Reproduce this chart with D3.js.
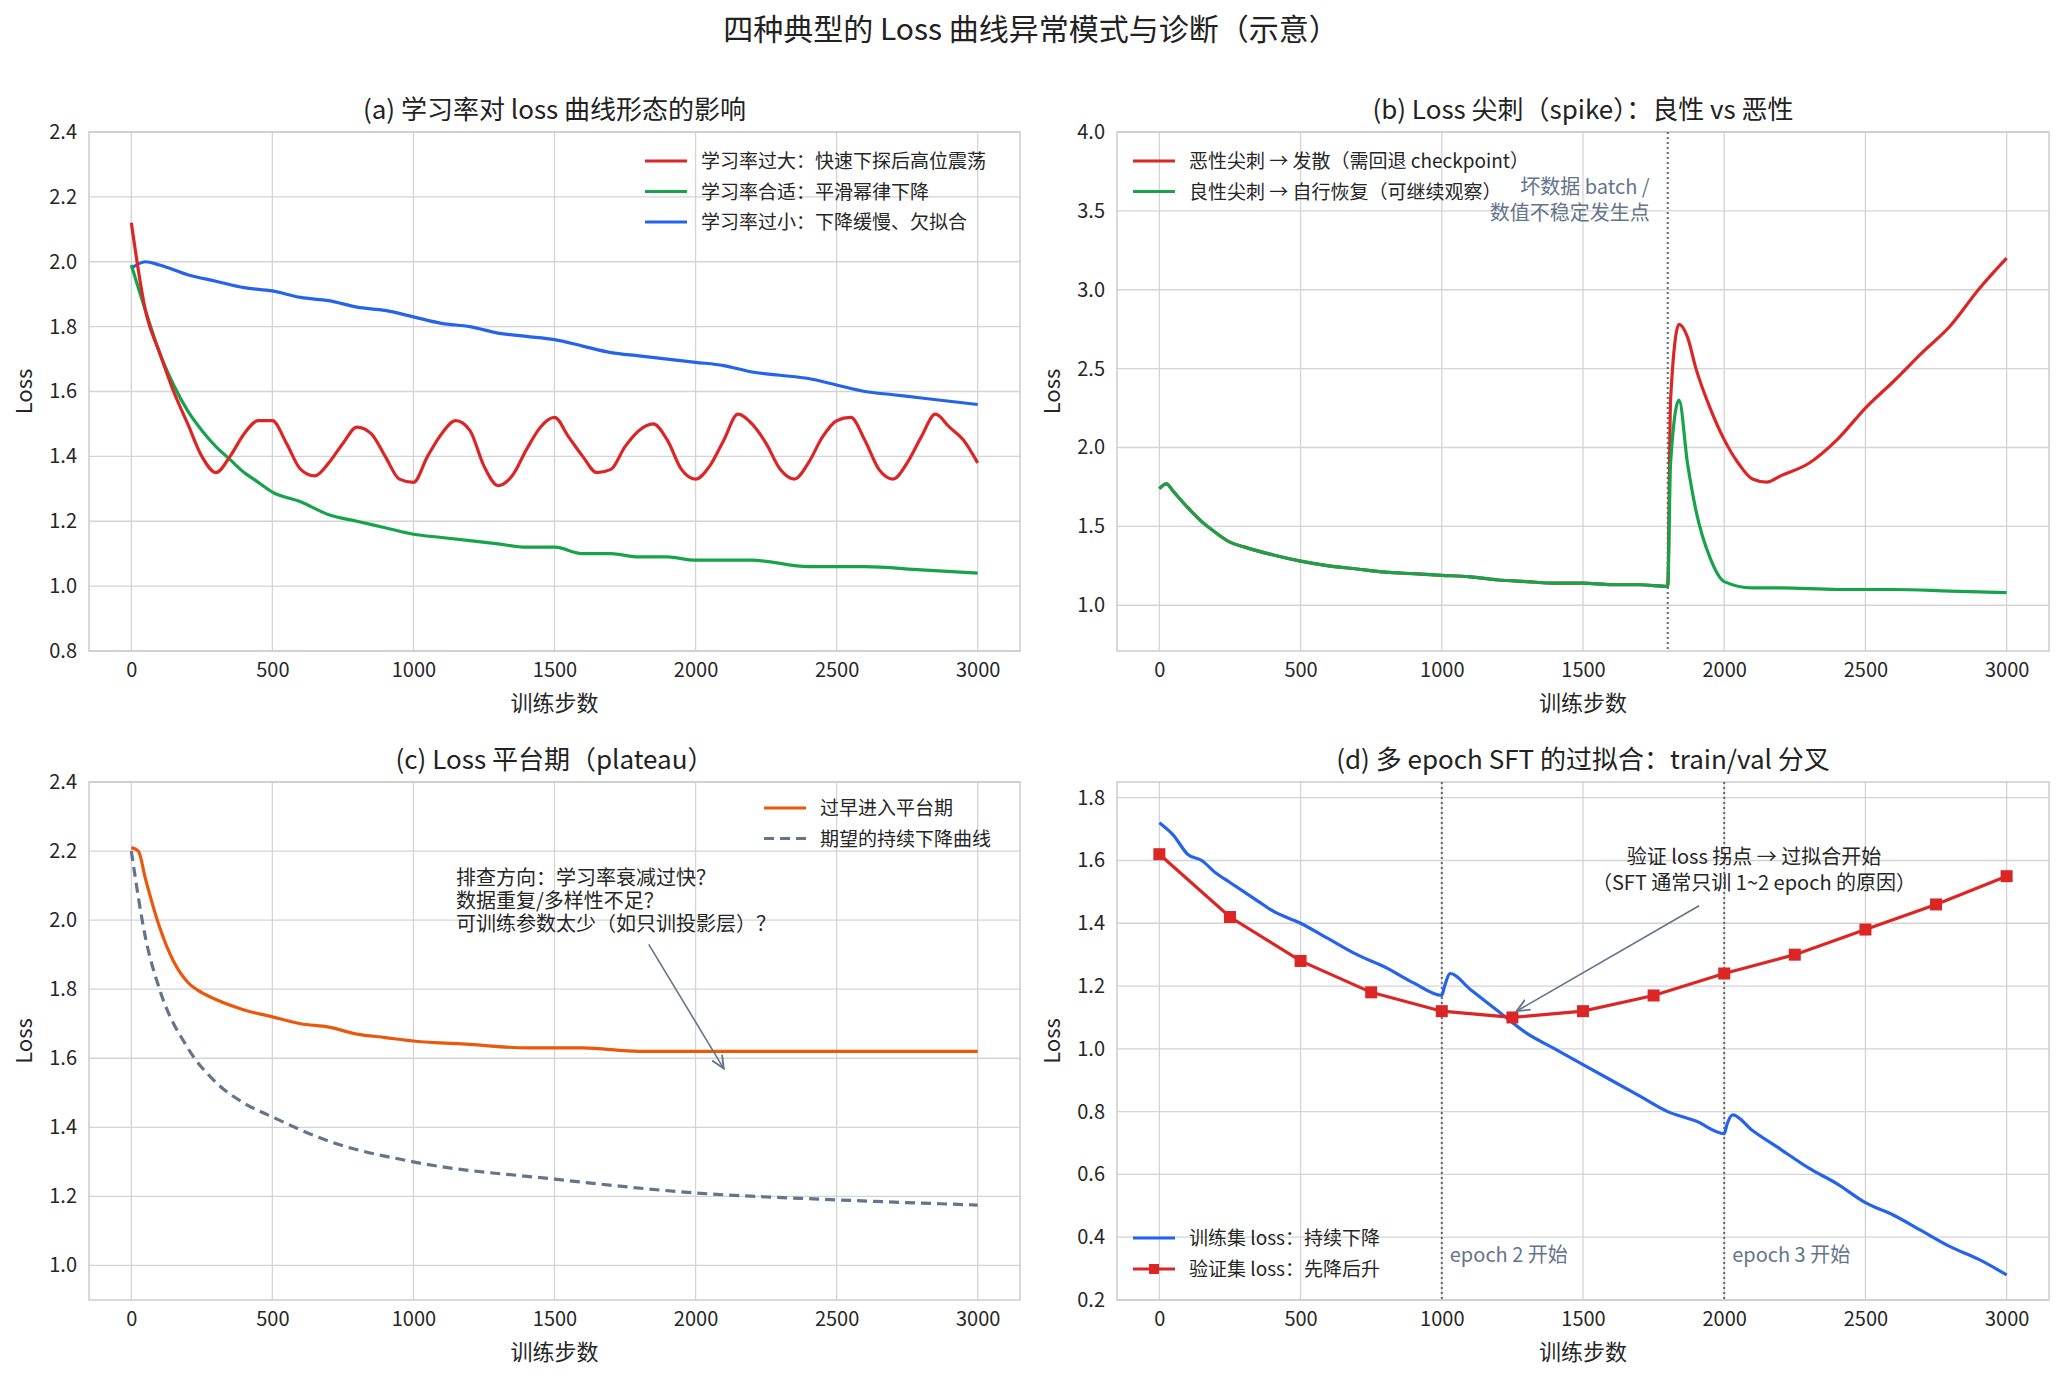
<!DOCTYPE html>
<html><head><meta charset="utf-8">
<script src="https://cdn.jsdelivr.net/npm/d3@7"></script>
<style>
body{margin:0;background:#fff;font-family:"Noto Sans CJK SC","Noto Sans",sans-serif;}
svg text{font-family:"Noto Sans CJK SC","Noto Sans",sans-serif;}
</style></head><body>
<svg id="chart" width="2063" height="1379"></svg>
<script>
// ---- data ----
const xTicks = [0, 500, 1000, 1500, 2000, 2500, 3000];

// (a)
const aHighSteps = [0,50,100,150,200,250,300,350,400,450,500,550,600,650,700,750,800,850,900,950,1000,1050,1100,1150,1200,1250,1300,1350,1400,1450,1500,1550,1600,1650,1700,1750,1800,1850,1900,1950,2000,2050,2100,2150,2200,2250,2300,2350,2400,2450,2500,2550,2600,2650,2700,2750,2800,2850,2900,2950,3000];
const aHigh = [2.12,1.85,1.72,1.60,1.50,1.40,1.35,1.40,1.47,1.51,1.51,1.44,1.36,1.34,1.38,1.44,1.49,1.47,1.40,1.33,1.32,1.40,1.47,1.51,1.48,1.37,1.31,1.34,1.42,1.49,1.52,1.46,1.40,1.35,1.36,1.43,1.48,1.50,1.45,1.36,1.33,1.37,1.45,1.53,1.50,1.44,1.36,1.33,1.38,1.46,1.51,1.52,1.45,1.36,1.33,1.38,1.46,1.53,1.49,1.45,1.38];
const aGoodSteps = [0,50,100,150,200,250,300,350,400,450,500,600,700,800,900,1000,1100,1200,1300,1400,1500,1600,1700,1800,1900,2000,2200,2400,2600,2800,3000];
const aGood = [1.99,1.85,1.72,1.62,1.54,1.48,1.43,1.39,1.35,1.32,1.29,1.26,1.22,1.20,1.18,1.16,1.15,1.14,1.13,1.12,1.12,1.10,1.10,1.09,1.09,1.08,1.08,1.06,1.06,1.05,1.04];
const aLowSteps = [0,50,100,200,300,400,500,600,700,800,900,1000,1100,1200,1300,1400,1500,1600,1700,1800,1900,2000,2100,2200,2300,2400,2500,2600,2700,2800,2900,3000];
const aLow = [1.98,2.00,1.99,1.96,1.94,1.92,1.91,1.89,1.88,1.86,1.85,1.83,1.81,1.80,1.78,1.77,1.76,1.74,1.72,1.71,1.70,1.69,1.68,1.66,1.65,1.64,1.62,1.60,1.59,1.58,1.57,1.56];

// (b)
const bBaseSteps = [0,25,50,100,150,200,250,300,400,500,600,700,800,900,1000,1100,1200,1300,1400,1500,1600,1700,1800];
const bBase = [1.74,1.77,1.72,1.62,1.53,1.46,1.40,1.37,1.32,1.28,1.25,1.23,1.21,1.20,1.19,1.18,1.16,1.15,1.14,1.14,1.13,1.13,1.12];
const bBadSteps = [1810,1840,1870,1900,1950,2000,2050,2100,2150,2200,2300,2400,2500,2600,2700,2800,2900,3000];
const bBad = [2.30,2.78,2.70,2.50,2.25,2.05,1.90,1.80,1.78,1.82,1.90,2.05,2.25,2.42,2.60,2.77,3.00,3.20];
const bGoodSteps = [1810,1840,1870,1900,1950,2000,2100,2200,2400,2600,2800,3000];
const bGood = [1.90,2.30,1.90,1.60,1.30,1.15,1.11,1.11,1.10,1.10,1.09,1.08];

// (c)
const cRealSteps = [0,25,50,100,150,200,250,300,400,500,600,700,800,900,1000,1200,1400,1600,1800,2000,2200,2500,3000];
const cReal = [2.21,2.20,2.12,1.98,1.88,1.82,1.79,1.77,1.74,1.72,1.70,1.69,1.67,1.66,1.65,1.64,1.63,1.63,1.62,1.62,1.62,1.62,1.62];
const cIdealSteps = [0,50,100,200,300,400,500,700,1000,1500,2000,2500,3000];
const cIdeal = [2.20,1.95,1.80,1.63,1.53,1.47,1.43,1.36,1.30,1.25,1.21,1.19,1.175];

// (d)
const dTrainSteps = [0,50,100,150,200,250,300,350,400,500,600,700,800,900,1000,1010,1030,1100,1200,1300,1400,1500,1600,1700,1800,1900,2000,2010,2030,2100,2200,2300,2400,2500,2600,2700,2800,2900,3000];
const dTrain = [1.72,1.68,1.62,1.60,1.56,1.53,1.50,1.47,1.44,1.40,1.35,1.30,1.26,1.21,1.17,1.20,1.24,1.19,1.12,1.05,1.00,0.95,0.90,0.85,0.80,0.77,0.73,0.76,0.79,0.74,0.68,0.62,0.57,0.51,0.47,0.42,0.37,0.33,0.28];
const dValSteps = [0,250,500,750,1000,1250,1500,1750,2000,2250,2500,2750,3000];
const dVal = [1.62,1.42,1.28,1.18,1.12,1.10,1.12,1.17,1.24,1.30,1.38,1.46,1.55];

const RED = '#dc2626', GREEN = '#16a34a', BLUE = '#2563eb', ORANGE = '#ea580c', GRAY = '#64748b';

const svg = d3.select('#chart');
const defs = svg.append('defs');
defs.append('marker').attr('id', 'arrow').attr('viewBox', '0 0 10 10').attr('refX', 9).attr('refY', 5)
  .attr('markerWidth', 9).attr('markerHeight', 9).attr('orient', 'auto-start-reverse')
  .append('path').attr('d', 'M0,1 L9,5 L0,9').attr('fill', 'none').attr('stroke', GRAY).attr('stroke-width', 1.3);

svg.append('text').attr('x', 1031).attr('y', 40).attr('text-anchor', 'middle')
  .attr('font-size', 30).attr('fill', '#222').text('四种典型的 Loss 曲线异常模式与诊断（示意）');

const drawPanel = (box, title, yDomain, yTicks, fmt) => {
  const g = svg.append('g');
  const x = d3.scaleLinear().domain([-150, 3150]).range([box.l, box.r]);
  const y = d3.scaleLinear().domain(yDomain).range([box.b, box.t]);
  g.append('g').selectAll('line.vx').data(xTicks).enter().append('line')
    .attr('x1', d => x(d)).attr('x2', d => x(d)).attr('y1', box.t).attr('y2', box.b)
    .attr('stroke', '#d4d4d4').attr('stroke-width', 1.3);
  g.append('g').selectAll('line.hy').data(yTicks).enter().append('line')
    .attr('x1', box.l).attr('x2', box.r).attr('y1', d => y(d)).attr('y2', d => y(d))
    .attr('stroke', '#d4d4d4').attr('stroke-width', 1.3);
  g.append('rect').attr('x', box.l).attr('y', box.t).attr('width', box.r - box.l).attr('height', box.b - box.t)
    .attr('fill', 'none').attr('stroke', '#cccccc').attr('stroke-width', 1.5);
  const ax = g.append('g').attr('transform', `translate(0,${box.b})`)
    .call(d3.axisBottom(x).tickValues(xTicks).tickFormat(d3.format('d')).tickSize(0).tickPadding(12));
  const ay = g.append('g').attr('transform', `translate(${box.l},0)`)
    .call(d3.axisLeft(y).tickValues(yTicks).tickFormat(d3.format(fmt)).tickSize(0).tickPadding(12));
  [ax, ay].forEach(a => {
    a.select('.domain').remove();
    a.selectAll('text').attr('font-size', 20).attr('fill', '#262626');
  });
  g.append('text').attr('x', (box.l + box.r) / 2).attr('y', box.b + 60).attr('text-anchor', 'middle')
    .attr('font-size', 22).attr('fill', '#262626').text('训练步数');
  g.append('text').attr('transform', `translate(${box.l - 57},${(box.t + box.b) / 2}) rotate(-90)`)
    .attr('text-anchor', 'middle').attr('font-size', 22).attr('fill', '#262626').text('Loss');
  g.append('text').attr('x', (box.l + box.r) / 2).attr('y', box.t - 13).attr('text-anchor', 'middle')
    .attr('font-size', 26).attr('fill', '#222').text(title);
  return { g, x, y };
};

const addLine = (p, steps, vals, color, dash) => {
  const line = d3.line().x(d => p.x(d[0])).y(d => p.y(d[1])).curve(d3.curveMonotoneX);
  p.g.append('path').datum(d3.zip(steps, vals)).attr('fill', 'none').attr('stroke', color)
    .attr('stroke-width', 3.2).attr('stroke-dasharray', dash || null).attr('d', line);
};

const addLegend = (p, x0, y0, items, gap) => {
  items.forEach((it, i) => {
    const yy = y0 + i * gap;
    p.g.append('line').attr('x1', x0).attr('x2', x0 + 42).attr('y1', yy).attr('y2', yy)
      .attr('stroke', it.color).attr('stroke-width', 3.2).attr('stroke-dasharray', it.dash || null);
    if (it.marker) p.g.append('rect').attr('x', x0 + 16).attr('y', yy - 5).attr('width', 10).attr('height', 10).attr('fill', it.color);
    p.g.append('text').attr('x', x0 + 56).attr('y', yy + 7).attr('font-size', 19).attr('fill', '#262626').text(it.label);
  });
};

// (a)
const pa = drawPanel({ l: 89, r: 1020, t: 132, b: 651 }, '(a) 学习率对 loss 曲线形态的影响', [0.8, 2.4], [0.8, 1.0, 1.2, 1.4, 1.6, 1.8, 2.0, 2.2, 2.4], '.1f');
addLine(pa, aLowSteps, aLow, BLUE);
addLine(pa, aGoodSteps, aGood, GREEN);
addLine(pa, aHighSteps, aHigh, RED);
addLegend(pa, 645, 161, [
  { color: RED, label: '学习率过大：快速下探后高位震荡' },
  { color: GREEN, label: '学习率合适：平滑幂律下降' },
  { color: BLUE, label: '学习率过小：下降缓慢、欠拟合' }], 30.5);

// (b)
const pb = drawPanel({ l: 1117, r: 2049, t: 132, b: 651 }, '(b) Loss 尖刺（spike）：良性 vs 恶性', [0.71, 4.0], [1.0, 1.5, 2.0, 2.5, 3.0, 3.5, 4.0], '.1f');
pb.g.append('line').attr('x1', pb.x(1800)).attr('x2', pb.x(1800)).attr('y1', 132).attr('y2', 651)
  .attr('stroke', '#666').attr('stroke-width', 2).attr('stroke-dasharray', '2,3');
addLine(pb, bBaseSteps.concat(bBadSteps), bBase.concat(bBad), RED);
addLine(pb, bBaseSteps.concat(bGoodSteps), bBase.concat(bGood), GREEN);
addLegend(pb, 1133, 161, [
  { color: RED, label: '恶性尖刺 → 发散（需回退 checkpoint）' },
  { color: GREEN, label: '良性尖刺 → 自行恢复（可继续观察）' }], 30.5);
[['坏数据 batch /', 194], ['数值不稳定发生点', 220]].forEach(([t, yy]) =>
  pb.g.append('text').attr('x', pb.x(1800) - 18).attr('y', yy).attr('text-anchor', 'end')
    .attr('font-size', 20).attr('fill', GRAY).text(t));

// (c)
const pc = drawPanel({ l: 89, r: 1020, t: 782, b: 1300 }, '(c) Loss 平台期（plateau）', [0.9, 2.4], [1.0, 1.2, 1.4, 1.6, 1.8, 2.0, 2.2, 2.4], '.1f');
addLine(pc, cIdealSteps, cIdeal, GRAY, '10,6');
addLine(pc, cRealSteps, cReal, ORANGE);
addLegend(pc, 764, 808, [
  { color: ORANGE, label: '过早进入平台期' },
  { color: GRAY, label: '期望的持续下降曲线', dash: '10,6' }], 30.5);
['排查方向：学习率衰减过快？', '数据重复/多样性不足？', '可训练参数太少（如只训投影层）？'].forEach((t, i) =>
  pc.g.append('text').attr('x', 456).attr('y', 885 + i * 23).attr('font-size', 20).attr('fill', '#262626').text(t));
pc.g.append('line').attr('x1', pc.x(1834)).attr('y1', pc.y(1.93)).attr('x2', pc.x(2100)).attr('y2', pc.y(1.57))
  .attr('stroke', GRAY).attr('stroke-width', 1.6).attr('marker-end', 'url(#arrow)');

// (d)
const pd = drawPanel({ l: 1117, r: 2049, t: 782, b: 1300 }, '(d) 多 epoch SFT 的过拟合：train/val 分叉', [0.2, 1.85], [0.2, 0.4, 0.6, 0.8, 1.0, 1.2, 1.4, 1.6, 1.8], '.1f');
[1000, 2000].forEach((s, i) => {
  pd.g.append('line').attr('x1', pd.x(s)).attr('x2', pd.x(s)).attr('y1', 782).attr('y2', 1300)
    .attr('stroke', '#666').attr('stroke-width', 2).attr('stroke-dasharray', '2,3');
  pd.g.append('text').attr('x', pd.x(s) + 8).attr('y', 1262).attr('font-size', 20).attr('fill', GRAY)
    .text(`epoch ${i + 2} 开始`);
});
addLine(pd, dTrainSteps, dTrain, BLUE);
const valLine = d3.line().x(d => pd.x(d[0])).y(d => pd.y(d[1]));
pd.g.append('path').datum(d3.zip(dValSteps, dVal)).attr('fill', 'none').attr('stroke', RED).attr('stroke-width', 3.2).attr('d', valLine);
pd.g.selectAll('rect.m').data(d3.zip(dValSteps, dVal)).enter().append('rect')
  .attr('x', d => pd.x(d[0]) - 6).attr('y', d => pd.y(d[1]) - 6).attr('width', 12).attr('height', 12).attr('fill', RED);
addLegend(pd, 1133, 1238, [
  { color: BLUE, label: '训练集 loss：持续下降' },
  { color: RED, label: '验证集 loss：先降后升', marker: true }], 31);
[['验证 loss 拐点 → 过拟合开始', 864], ['（SFT 通常只训 1~2 epoch 的原因）', 890]].forEach(([t, yy]) =>
  pd.g.append('text').attr('x', 1754).attr('y', yy).attr('text-anchor', 'middle').attr('font-size', 20).attr('fill', '#262626').text(t));
pd.g.append('line').attr('x1', pd.x(1911)).attr('y1', pd.y(1.456)).attr('x2', pd.x(1265)).attr('y2', pd.y(1.12))
  .attr('stroke', GRAY).attr('stroke-width', 1.6).attr('marker-end', 'url(#arrow)');
</script></body></html>
